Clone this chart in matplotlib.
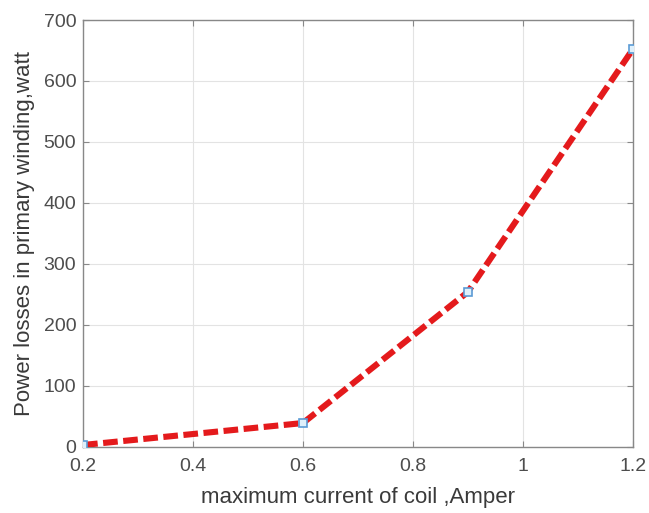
import matplotlib
matplotlib.use("Agg")
import matplotlib.pyplot as plt

# Coil current (A) and primary winding losses (W)
current = [0.2, 0.6, 0.9, 1.2]
losses = [3, 39, 254, 652]
x_ticks = [0.2, 0.4, 0.6, 0.8, 1.0, 1.2]
x_tick_labels = ["0.2", "0.4", "0.6", "0.8", "1", "1.2"]
y_ticks = [0, 100, 200, 300, 400, 500, 600, 700]

plt.rcParams["font.family"] = ["Liberation Sans", "DejaVu Sans"]

fig = plt.figure(figsize=(6.49, 5.13), dpi=100)
ax = fig.add_axes([0.128, 0.129, 0.847, 0.832])

ax.plot(current, losses, color="#e41a1c", linestyle=(0, (2.4, 0.9)), linewidth=4.4,
        marker="s", markersize=5.5, markerfacecolor="#dff0fb",
        markeredgecolor="#5b9bd5", markeredgewidth=1.2, zorder=3)

ax.set_xlim(0.2, 1.2)
ax.set_ylim(0, 700)
ax.set_xticks(x_ticks)
ax.set_xticklabels(x_tick_labels)
ax.set_yticks(y_ticks)
ax.grid(True, color="#e3e3e3", linewidth=0.8)
ax.set_axisbelow(True)

for s in ax.spines.values():
    s.set_color("#888888")
    s.set_linewidth(1.0)
ax.tick_params(axis="both", direction="in", length=4, color="#888888",
               labelsize=14, labelcolor="#4d4d4d", top=True, right=True)
ax.tick_params(axis="x", pad=8)
ax.tick_params(axis="y", pad=5)

ax.set_xlabel("maximum current of coil ,Amper", fontsize=16, color="#3a3a3a", labelpad=9)
ax.set_ylabel("Power losses in primary winding,watt", fontsize=16, color="#3a3a3a", labelpad=6)

fig.savefig("out.png", dpi=100)
